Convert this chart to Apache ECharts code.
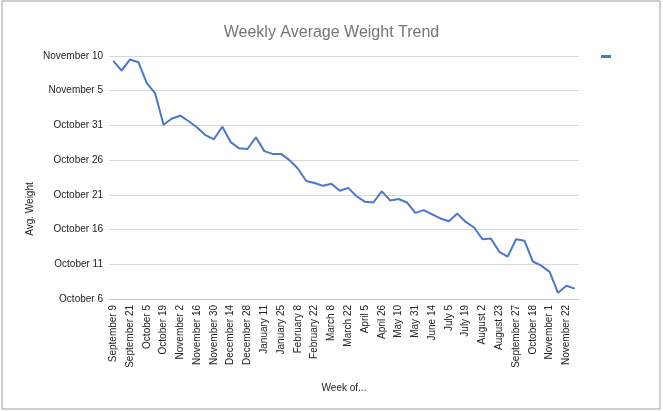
<!DOCTYPE html>
<html>
<head>
    <title>Weekly Average Weight Trend</title>
    <script src="https://cdn.jsdelivr.net/npm/echarts@6/dist/echarts.min.js"></script>
    <style>
        body { margin: 0; background: #fff; }
    </style>
</head>
<body>
    <div id="chart" style="width: 663px; height: 411px;"></div>
    <script>
        // week labels (only every other one is shown on the axis)
        var weeks = [
            'September 9', 'September 14', 'September 21', 'September 28', 'October 5', 'October 12',
            'October 19', 'October 26', 'November 2', 'November 9', 'November 16', 'November 23',
            'November 30', 'December 7', 'December 14', 'December 21', 'December 28', 'January 4',
            'January 11', 'January 18', 'January 25', 'February 1', 'February 8', 'February 15',
            'February 22', 'March 1', 'March 8', 'March 15', 'March 22', 'March 29',
            'April 5', 'April 19', 'April 26', 'May 3', 'May 10', 'May 24',
            'May 31', 'June 7', 'June 14', 'June 28', 'July 5', 'July 12',
            'July 19', 'July 26', 'August 2', 'August 16', 'August 23', 'September 13',
            'September 27', 'October 11', 'October 18', 'October 25', 'November 1', 'November 15',
            'November 22', 'November 29'
        ];

        // average weight (lbs) - the sheet shows these as date serials
        var avgWeight = [
            314.3, 312.9, 314.5, 314.1, 311.1, 309.6, 305.1, 306.0, 306.4, 305.6,
            304.7, 303.6, 303.0, 304.8, 302.6, 301.7, 301.6, 303.3, 301.3, 300.9,
            300.9, 300.0, 298.8, 297.0, 296.7, 296.3, 296.6, 295.6, 296.0, 294.8,
            294.0, 293.9, 295.5, 294.2, 294.4, 293.9, 292.4, 292.8, 292.2, 291.6,
            291.2, 292.3, 291.1, 290.3, 288.6, 288.7, 286.8, 286.1, 288.6, 288.4,
            285.4, 284.8, 283.9, 280.9, 281.9, 281.5
        ];

        // y tick labels, from 280 up to 315 in steps of 5
        var yTicks = [
            'October 6', 'October 11', 'October 16', 'October 21',
            'October 26', 'October 31', 'November 5', 'November 10'
        ];
        var yMin = 280;
        var yStep = 5;

        var chart = echarts.init(document.querySelector('#chart'));

        var option = {
            textStyle: { fontFamily: 'Liberation Sans, Arial, sans-serif' },
            title: {
                text: 'Weekly Average Weight Trend',
                left: 'center',
                top: 14,
                textStyle: { fontSize: 16, fontWeight: 'normal', color: '#757575' }
            },
            legend: {
                left: 596,
                top: 50,
                itemWidth: 10,
                itemHeight: 3,
                icon: 'rect',
                textStyle: { fontSize: 1 },
                data: [' ']
            },
            grid: { left: 109, right: 84, top: 56, bottom: 112 },
            xAxis: {
                type: 'category',
                data: weeks,
                boundaryGap: true,
                name: 'Week of...',
                nameLocation: 'middle',
                nameGap: 81,
                nameTextStyle: { fontSize: 10, color: '#222' },
                axisLine: { lineStyle: { color: '#c8c8c8' } },
                axisTick: { show: false },
                axisLabel: {
                    interval: 0,
                    // every other week gets a label
                    formatter: function (v, i) { return i % 2 === 0 ? v : ''; },
                    rotate: 90,
                    fontSize: 10,
                    color: '#222',
                    margin: 6
                }
            },
            yAxis: {
                type: 'value',
                min: yMin,
                max: yMin + yStep * (yTicks.length - 1),
                interval: yStep,
                axisLine: { show: false },
                axisTick: { show: false },
                splitLine: { lineStyle: { color: '#d9d9d9' } },
                axisLabel: {
                    fontSize: 10,
                    color: '#222',
                    margin: 6,
                    formatter: function (v) {
                        return yTicks[Math.round((v - yMin) / yStep)];
                    }
                }
            },
            graphic: [
                {
                    type: 'rect',
                    shape: { x: 2, y: 1, width: 658, height: 408 },
                    style: { fill: 'none', stroke: '#9e9e9e', lineWidth: 1 },
                    silent: true
                },
                {
                    type: 'text',
                    x: 30,
                    y: 209,
                    rotation: Math.PI / 2,
                    style: {
                        text: 'Avg. Weight',
                        fontSize: 10,
                        fill: '#222',
                        fontFamily: 'Liberation Sans, Arial, sans-serif',
                        align: 'center',
                        verticalAlign: 'middle'
                    }
                }
            ],
            series: [{
                name: ' ',
                type: 'line',
                data: avgWeight,
                symbol: 'none',
                lineStyle: { width: 2, color: '#4a76cf' },
                itemStyle: { color: '#4a76cf' }
            }]
        };
        chart.setOption(option);
    </script>
</body>
</html>
